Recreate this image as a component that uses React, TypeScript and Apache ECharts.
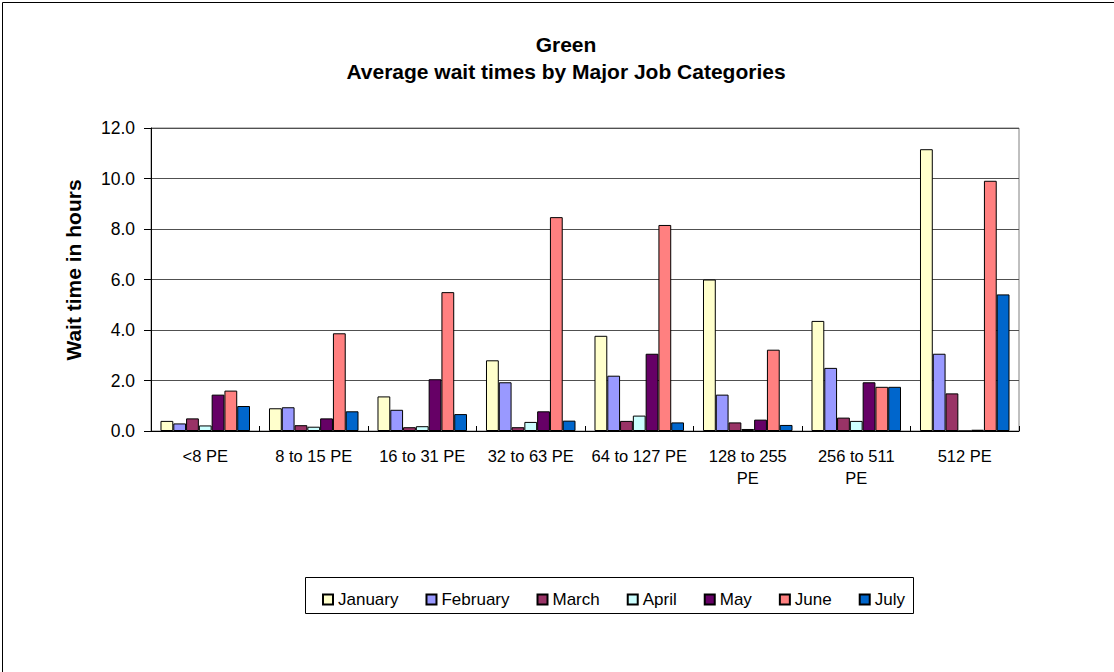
import React, { useEffect, useRef } from "react";
import * as echarts from "echarts";

const categories = ["<8 PE", "8 to 15 PE", "16 to 31 PE", "32 to 63 PE", "64 to 127 PE", "128 to 255\nPE", "256 to 511\nPE", "512 PE"];
const seriesNames = ["January", "February", "March", "April", "May", "June", "July"];
const january = [0.4, 0.9, 1.37, 2.8, 3.77, 6.0, 4.36, 11.16];
const february = [0.3, 0.94, 0.84, 1.93, 2.19, 1.44, 2.5, 3.06];
const march = [0.5, 0.23, 0.15, 0.15, 0.4, 0.34, 0.53, 1.49];
const april = [0.22, 0.17, 0.19, 0.36, 0.61, 0.08, 0.4, 0];
const may = [1.44, 0.5, 2.05, 0.78, 3.06, 0.45, 1.93, 0.05];
const june = [1.6, 3.87, 5.5, 8.47, 8.16, 3.22, 1.75, 9.91];
const july = [0.99, 0.78, 0.67, 0.41, 0.34, 0.24, 1.75, 5.41];
const colors = ["#FFFFCC", "#9999FF", "#993366", "#CCFFFF", "#660066", "#FF8080", "#0066CC"];

const FONT = "'Liberation Sans', Arial, sans-serif";

export default function App() {
  const ref = useRef<HTMLDivElement>(null);
  useEffect(() => {
    document.body.style.margin = "0";
    const chart = echarts.init(ref.current!, null, { renderer: "svg" });
    const data = [january, february, march, april, may, june, july];
    chart.setOption({
      animation: false,
      backgroundColor: "#ffffff",
      textStyle: { fontFamily: FONT },
      title: {
        text: "Green\nAverage wait times by Major Job Categories",
        left: 566,
        top: 31,
        textAlign: "center",
        padding: 0,
        textStyle: { fontFamily: FONT, fontSize: 21, fontWeight: "bold", color: "#000", lineHeight: 27 },
      },
      grid: { left: 151, right: 95, top: 128, bottom: 241, show: true, borderColor: "#808080", borderWidth: 1 },
      legend: {
        data: seriesNames,
        left: 317,
        top: 586,
        itemWidth: 10,
        itemHeight: 10,
        itemGap: 27,
        icon: "rect",
        textStyle: { fontFamily: FONT, fontSize: 17, color: "#000" },
      },
      graphic: [
        { type: "rect", shape: { x: 2.5, y: 2.5, width: 3000, height: 3000 }, style: { fill: "none", stroke: "#000", lineWidth: 1 }, silent: true },
        { type: "rect", shape: { x: 305.5, y: 577.5, width: 608, height: 36 }, style: { fill: "none", stroke: "#000", lineWidth: 1 }, silent: true },
        {
          type: "text",
          x: 73,
          y: 270,
          rotation: Math.PI / 2,
          style: { text: "Wait time in hours", fontFamily: FONT, fontSize: 21, fontWeight: "bold", fill: "#000", align: "center", verticalAlign: "middle" },
        },
      ],
      xAxis: {
        type: "category",
        data: categories,
        axisLine: { lineStyle: { color: "#000", width: 1 } },
        axisTick: { show: true, inside: true, length: 5, lineStyle: { color: "#000" } },
        axisLabel: { fontFamily: FONT, fontSize: 16.5, color: "#000", margin: 14, lineHeight: 22, interval: 0 },
      },
      yAxis: {
        type: "value",
        min: 0,
        max: 12,
        interval: 2,
        axisLine: { show: true, lineStyle: { color: "#000", width: 1 } },
        axisTick: { show: true, length: 7, lineStyle: { color: "#000" } },
        axisLabel: { fontFamily: FONT, fontSize: 17.5, color: "#000", margin: 16, formatter: (v: number) => v.toFixed(1) },
        splitLine: { lineStyle: { color: "#505050", width: 1 } },
      },
      series: seriesNames.map((name, i) => ({
        name,
        type: "bar",
        data: data[i],
        barGap: "0%",
        barCategoryGap: "17.5%",
        itemStyle: { color: colors[i], borderColor: "#000", borderWidth: 1 },
      })),
    });
    return () => chart.dispose();
  }, []);
  return <div ref={ref} style={{ width: 1114, height: 672 }} />;
}
